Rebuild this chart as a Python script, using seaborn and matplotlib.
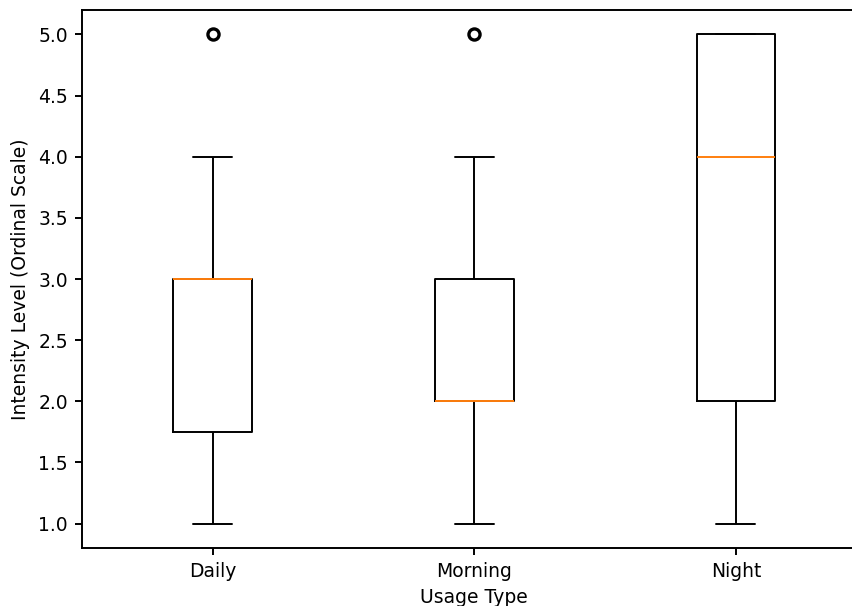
import matplotlib
matplotlib.use("Agg")
import matplotlib.pyplot as plt
import pandas as pd
import seaborn as sns

# ordinal responses per usage type
daily = [1, 1, 1, 2, 2, 3, 3, 3, 3, 3, 4, 5]
morning = [1, 2, 2, 2, 2, 3, 3, 4, 5]
night = [1, 2, 2, 4, 4, 5, 5, 5, 5]
categories = ["Daily", "Morning", "Night"]

df = pd.DataFrame({
    "usage": ["Daily"] * len(daily) + ["Morning"] * len(morning) + ["Night"] * len(night),
    "level": daily + morning + night,
})

sns.set_style("ticks")
plt.rcParams["font.family"] = ["DejaVu Sans"]
plt.rcParams["text.color"] = "black"
plt.rcParams["axes.labelcolor"] = "black"

fig, ax = plt.subplots(figsize=(8.53, 6.06), dpi=100)
fig.subplots_adjust(left=0.096, right=1.016, top=0.9835, bottom=0.0957)

lw = 1.4
sns.boxplot(
    data=df, x="usage", y="level", order=categories, ax=ax,
    width=0.3, fill=False, color="black", linecolor="black", linewidth=lw,
    whis=1.5,
    medianprops={"color": "#ff7f0e", "linewidth": lw},
    flierprops={"marker": "o", "markerfacecolor": "none",
                "markeredgecolor": "black", "markersize": 8, "markeredgewidth": 2.4},
)

ax.set_xlim(-0.5, 2.5)
ax.set_ylim(0.8, 5.2)
ax.set_yticks([1.0, 1.5, 2.0, 2.5, 3.0, 3.5, 4.0, 4.5, 5.0])
ax.set_yticklabels(["1.0", "1.5", "2.0", "2.5", "3.0", "3.5", "4.0", "4.5", "5.0"])
ax.set_xlabel("Usage Type", fontsize=13.5, labelpad=5, color="black")
ax.set_ylabel("Intensity Level (Ordinal Scale)", fontsize=13.5, labelpad=6, color="black")
for s in ax.spines.values():
    s.set_linewidth(lw)
    s.set_color("black")
ax.spines["right"].set_visible(False)
ax.tick_params(length=5, width=lw, pad=5, colors="black", labelsize=13.5)

fig.savefig("out.png", dpi=100)
